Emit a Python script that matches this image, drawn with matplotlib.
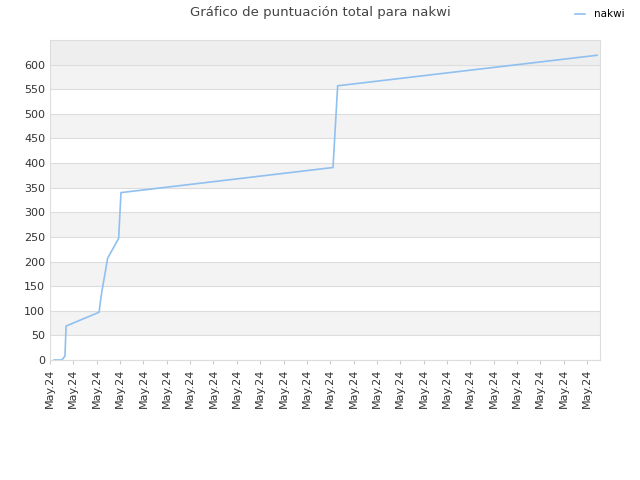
import matplotlib
matplotlib.use('Agg')
import matplotlib.pyplot as plt

# posiciones en unidades de tick (0 = primer tick)
x_vals = [0.17, 0.51, 0.64, 0.69, 2.10, 2.21, 2.47, 2.94, 3.04, 12.12, 12.32, 23.43]
y_vals = [0, 0, 8, 69, 97, 136, 207, 247, 340, 391, 557, 619]
tick_labels = ['May.24'] * 24

fig = plt.figure(figsize=(6.4, 4.8), dpi=100)
ax = fig.add_axes([50/640, 1-360/480, 550/640, 320/480])
ax.set_xlim(0, 550/23.35)
ax.set_ylim(0, 650)

for lo in range(0, 650, 50):
    if lo == 600:
        c = '#eeeeee'
    elif (lo // 50) % 2 == 1:
        c = '#f3f3f3'
    else:
        c = 'white'
    ax.axhspan(lo, lo + 50, color=c, zorder=0, lw=0)
    ax.axhline(lo, color='#dddddd', lw=0.8, zorder=1)

ax.plot(x_vals, y_vals, color='#90c0f0', lw=1.2, label='nakwi', zorder=3)

ax.set_yticks(range(0, 650, 50))
ax.set_xticks(range(len(tick_labels)))
ax.set_xticklabels(tick_labels, rotation=90, fontsize=8, color='#333333')
ax.tick_params(axis='y', labelsize=8, colors='#333333', length=0)
ax.tick_params(axis='x', length=3, color='#cccccc')
for s in ax.spines.values():
    s.set_color('#dddddd')

fig.suptitle('Gráfico de puntuación total para nakwi', fontsize=9.5, color='#444444', y=0.988)
fig.legend(loc='upper right', bbox_to_anchor=(0.99, 1.0), frameon=False, fontsize=7.5, handlelength=1)

plt.savefig('out.png')
